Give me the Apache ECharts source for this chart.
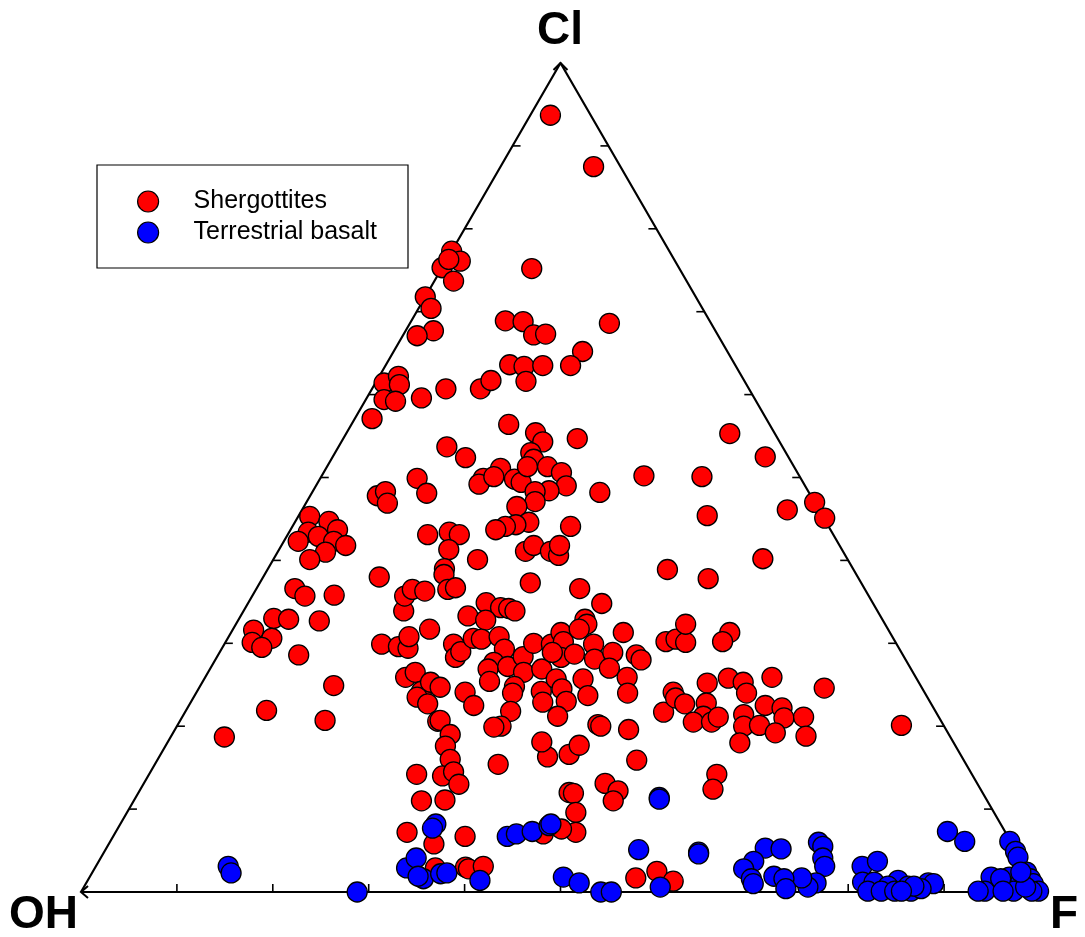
<!DOCTYPE html>
<html>
<head>
<meta charset="utf-8">
<title>Ternary Cl-OH-F</title>
<script src="https://cdn.jsdelivr.net/npm/echarts@6/dist/echarts.min.js"></script>
<style>
  html, body { margin: 0; padding: 0; background: #fff; }
  #chart { width: 1085px; height: 937px; }
</style>
</head>
<body>
<div id="chart"></div>
<script>
// ternary compositions, [Cl %, F %]  (OH = 100 - Cl - F)
const shergottites = [
  [93.7, 2.1], [87.5, 9.7], [77.3, 0.0], [76.1, 1.5], [75.3, 0.0], [76.3, 0.2], [73.7, 2.0], [75.2, 9.4],
  [71.8, 0.0], [70.4, 1.3], [67.7, 2.9], [67.1, 1.5], [68.9, 9.8], [68.8, 11.7], [67.2, 13.6], [67.3, 14.8],
  [68.6, 20.8], [61.4, 0.9], [62.2, 2.0], [61.2, 2.6], [59.4, 1.9], [59.2, 3.2], [57.1, 1.8], [59.6, 5.7],
  [60.7, 7.7], [60.7, 11.3], [61.7, 11.9], [65.2, 19.7], [63.5, 19.3], [63.6, 12.9], [63.4, 14.5], [61.6, 15.6],
  [63.5, 16.4], [56.4, 16.4], [55.4, 19.7], [54.3, 21.0], [54.7, 24.4], [53.0, 20.4], [52.2, 21.1], [53.7, 11.3],
  [52.4, 13.9], [51.1, 18.2], [49.9, 17.0], [49.2, 16.9], [50.1, 18.0], [49.8, 20.3], [49.4, 21.2], [51.3, 20.9],
  [51.3, 23.0], [50.6, 24.8], [49.0, 26.1], [48.4, 24.6], [48.3, 23.2], [47.1, 23.8], [46.5, 22.2], [44.6, 24.4],
  [44.3, 23.2], [44.1, 22.2], [43.7, 21.4], [44.1, 29.0], [41.1, 25.8], [41.8, 26.3], [41.1, 28.4], [40.6, 29.5],
  [41.8, 29.0], [48.2, 30.0], [50.2, 33.6], [50.1, 39.7], [55.3, 40.0], [52.5, 45.1], [47.0, 53.0], [45.1, 55.0],
  [46.1, 50.6], [45.4, 42.6], [40.2, 51.0], [38.9, 41.7], [37.8, 46.5], [43.1, 14.6], [43.4, 16.7], [43.1, 17.9],
  [41.3, 17.7], [40.1, 21.3], [39.0, 18.4], [49.9, 10.1], [48.1, 12.0], [47.8, 7.0], [48.3, 7.6], [46.9, 8.5],
  [45.3, 1.2], [44.7, 3.5], [43.7, 4.9], [43.4, 2.0], [42.3, 1.5], [42.9, 3.3], [42.3, 5.2], [41.8, 6.7],
  [41.0, 5.0], [40.1, 3.8], [38.0, 12.1], [36.6, 4.0], [35.7, 5.5], [35.8, 8.5], [33.0, 3.6], [32.9, 5.2],
  [31.6, 2.2], [30.6, 4.6], [30.1, 2.8], [29.5, 4.1], [32.7, 8.5], [28.6, 8.4], [24.9, 13.9], [21.9, 8.4],
  [20.7, 15.1], [18.7, 5.6], [33.9, 16.7], [35.7, 15.9], [36.5, 16.3], [36.3, 17.7], [38.3, 18.7], [36.5, 20.0],
  [36.7, 20.7], [29.9, 16.4], [29.6, 18.3], [29.4, 19.4], [30.8, 18.8], [31.7, 20.5], [33.3, 23.7], [29.9, 23.9],
  [28.3, 24.9], [29.0, 25.1], [30.6, 25.6], [25.9, 20.9], [26.5, 21.6], [24.2, 23.4], [23.5, 23.3], [25.3, 23.8],
  [24.7, 25.1], [22.7, 24.8], [24.1, 28.0], [22.5, 29.7], [20.6, 26.9], [20.7, 27.1], [19.0, 29.0], [17.6, 29.2],
  [16.0, 30.5], [37.3, 28.2], [36.6, 33.7], [34.8, 36.9], [34.9, 24.8], [34.3, 26.6], [34.2, 27.5], [33.9, 28.3],
  [32.8, 25.8], [30.5, 26.5], [30.8, 28.2], [29.3, 29.5], [27.7, 29.2], [26.9, 29.0], [25.4, 29.9], [27.2, 30.9],
  [28.4, 31.9], [26.5, 32.9], [30.0, 32.2], [24.8, 32.8], [24.0, 33.0], [21.8, 33.9], [20.0, 33.8], [19.9, 33.1],
  [26.9, 34.6], [24.2, 35.9], [22.9, 36.7], [25.7, 36.7], [24.5, 37.9], [23.0, 39.1], [21.2, 39.1], [29.9, 34.1],
  [31.3, 34.4], [30.2, 35.2], [28.3, 35.9], [28.7, 37.1], [28.9, 34.7], [32.9, 36.1], [32.3, 36.6], [31.7, 36.1],
  [29.9, 38.5], [28.1, 39.5], [28.9, 41.0], [27.0, 41.6], [31.3, 40.9], [28.6, 43.6], [28.0, 44.4], [25.9, 44.0],
  [24.0, 45.0], [25.7, 39.5], [23.7, 41.0], [20.2, 43.8], [20.0, 44.2], [19.6, 47.3], [16.3, 40.5], [18.1, 39.0],
  [16.6, 42.6], [17.7, 43.1], [15.9, 50.0], [15.4, 35.8], [21.7, 49.9], [24.1, 49.7], [23.4, 50.3], [22.7, 51.6],
  [30.2, 45.9], [30.5, 46.8], [30.1, 48.0], [32.3, 46.9], [31.3, 52.0], [30.2, 51.8], [25.8, 54.6], [25.3, 56.4],
  [24.0, 57.4], [25.9, 59.1], [24.6, 65.2], [25.2, 52.7], [22.8, 53.8], [21.2, 54.3], [20.5, 53.6], [20.5, 55.5],
  [21.1, 55.9], [21.4, 58.4], [20.0, 59.1], [18.0, 59.7], [20.1, 60.7], [22.5, 60.1], [22.2, 62.0], [21.0, 62.8],
  [19.2, 62.8], [21.1, 64.8], [18.8, 66.2], [20.1, 75.5], [14.2, 59.2], [12.4, 59.7], [14.2, 27.9], [11.0, 30.0],
  [14.0, 30.7], [14.5, 31.6], [13.0, 32.9], [11.1, 32.4], [13.1, 48.1], [12.2, 49.9], [11.0, 50.0], [12.0, 44.9],
  [11.9, 45.4], [9.6, 46.8], [7.2, 48.0], [7.6, 46.3], [7.0, 44.7], [7.2, 30.4], [5.8, 33.9], [6.7, 36.7],
  [2.9, 35.5], [3.0, 38.6], [2.8, 39.0], [3.1, 40.4], [1.7, 57.0], [2.5, 58.8], [1.3, 61.1]
];

const terrestrialBasalt = [
  [3.1, 13.8], [2.3, 14.5], [0.0, 28.8], [8.2, 32.9], [7.7, 32.8], [6.7, 41.1], [7.0, 41.9], [7.3, 43.4],
  [8.0, 44.8], [8.2, 44.9], [11.4, 54.6], [11.2, 54.7], [5.1, 55.6], [4.8, 62.0], [4.6, 62.1], [2.9, 32.5],
  [4.1, 32.9], [1.6, 34.9], [1.9, 34.2], [2.2, 36.4], [2.3, 37.0], [1.4, 40.9], [1.8, 49.4], [1.1, 51.4],
  [0.0, 54.2], [0.0, 55.3], [0.6, 60.1], [7.3, 86.7], [6.1, 89.1], [6.0, 73.9], [5.5, 74.6], [4.1, 75.3],
  [3.1, 76.0], [1.1, 76.1], [0.6, 75.5], [1.7, 74.3], [5.3, 68.7], [5.2, 70.4], [3.7, 68.3], [2.8, 67.7],
  [1.6, 69.1], [1.0, 69.6], [1.9, 71.3], [1.6, 72.5], [0.4, 73.3], [3.1, 79.9], [3.7, 81.2], [1.2, 80.9],
  [1.2, 82.1], [1.4, 84.5], [0.7, 83.8], [0.7, 85.9], [1.1, 87.8], [1.0, 88.4], [0.1, 82.0], [0.1, 83.4],
  [0.1, 84.8], [0.1, 86.5], [0.4, 87.4], [0.7, 86.5], [0.1, 85.5], [6.1, 93.8], [4.9, 95.0], [4.2, 95.6],
  [2.4, 97.4], [1.6, 98.2], [1.0, 98.8], [0.1, 99.8], [1.8, 94.0], [1.8, 95.9], [1.2, 97.4], [0.1, 94.2],
  [0.1, 97.2], [0.1, 99.1], [0.6, 98.2], [0.1, 93.5], [1.6, 95.1], [2.4, 96.8], [0.1, 96.1]
];

const seriesNames = ['Shergottites', 'Terrestrial basalt'];
const seriesColors = ['#ff0000', '#0000ff'];
const tickValues = [10, 20, 30, 40, 50, 60, 70, 80, 90];
// corners as [Cl, F]
const cornerNames = ['OH', 'F', 'Cl'];
const corners = [[0, 0], [0, 100], [100, 0]];

const SQ3 = Math.sqrt(3) / 2;
function toXY(p) {
    const cl = p[0], f = p[1];
    return [f + cl / 2, cl * SQ3];
}

const chart = echarts.init(document.getElementById('chart'));

const frameData = corners.concat([corners[0]]).map(toXY);

function renderTick(params, api) {
    const t = api.value(0);
    const len = 8;
    const b = api.coord(toXY([0, t]));
    const l = api.coord(toXY([t, 0]));
    const r = api.coord(toXY([t, 100 - t]));
    const st = { stroke: '#000', lineWidth: 1.6 };
    return {
        type: 'group',
        children: [
            { type: 'line', shape: { x1: b[0], y1: b[1], x2: b[0], y2: b[1] - len }, style: st },
            { type: 'line', shape: { x1: l[0], y1: l[1], x2: l[0] + len, y2: l[1] }, style: st },
            { type: 'line', shape: { x1: r[0], y1: r[1], x2: r[0] - len, y2: r[1] }, style: st }
        ]
    };
}

function renderArrow(params, api) {
    const p = api.coord([api.value(0), api.value(1)]);
    const i = params.dataIndex;
    let pts;
    if (i === 0) pts = [[p[0] + 7, p[1] - 6], p, [p[0] + 7, p[1] + 6]];
    else if (i === 1) pts = [[p[0] - 7, p[1] - 6], p, [p[0] - 7, p[1] + 6]];
    else pts = [[p[0] - 7, p[1] + 7], p, [p[0] + 7, p[1] + 7]];
    return { type: 'polyline', shape: { points: pts }, style: { stroke: '#000', lineWidth: 2, fill: null } };
}

const labelFont = 'bold 46px "Liberation Sans", Arial, sans-serif';

const option = {
    animation: false,
    backgroundColor: '#fff',
    grid: { left: 81, top: 63, width: 959, height: 829 },
    xAxis: { type: 'value', min: 0, max: 100, show: false },
    yAxis: { type: 'value', min: 0, max: 100 * SQ3, show: false },
    legend: {
        data: seriesNames,
        orient: 'vertical',
        left: 97,
        top: 165,
        padding: [24, 31, 23, 40],
        itemGap: 6,
        itemWidth: 21,
        itemHeight: 21,
        borderColor: '#000',
        borderWidth: 1.2,
        backgroundColor: '#fff',
        itemStyle: { borderColor: '#000', borderWidth: 1.2 },
        textStyle: {
            fontFamily: 'Liberation Sans, Arial, sans-serif',
            fontSize: 25,
            color: '#000',
            padding: [0, 0, 0, 30]
        }
    },
    graphic: [
        { type: 'text', left: 537, top: 8, style: { text: cornerNames[2], font: labelFont, fill: '#000' } },
        { type: 'text', left: 9, top: 892, style: { text: cornerNames[0], font: labelFont, fill: '#000' } },
        { type: 'text', left: 1050, top: 892, style: { text: cornerNames[1], font: labelFont, fill: '#000' } }
    ],
    series: [
        {
            type: 'line',
            data: frameData,
            symbol: 'none',
            lineStyle: { color: '#000', width: 2.2 },
            silent: true,
            z: 1
        },
        {
            type: 'custom',
            data: tickValues.map(t => [t]),
            renderItem: renderTick,
            silent: true,
            z: 1
        },
        {
            type: 'custom',
            data: corners.map(toXY),
            renderItem: renderArrow,
            silent: true,
            z: 1
        },
        {
            name: seriesNames[0],
            type: 'scatter',
            data: shergottites.map(toXY),
            symbolSize: 20,
            itemStyle: { color: seriesColors[0], borderColor: '#000', borderWidth: 1.3, opacity: 1 },
            z: 3
        },
        {
            name: seriesNames[1],
            type: 'scatter',
            data: terrestrialBasalt.map(toXY),
            symbolSize: 20,
            itemStyle: { color: seriesColors[1], borderColor: '#000', borderWidth: 1.3, opacity: 1 },
            z: 4
        }
    ]
};

chart.setOption(option);
window.addEventListener('resize', function() {
    chart && chart.resize();
});
</script>
</body>
</html>
